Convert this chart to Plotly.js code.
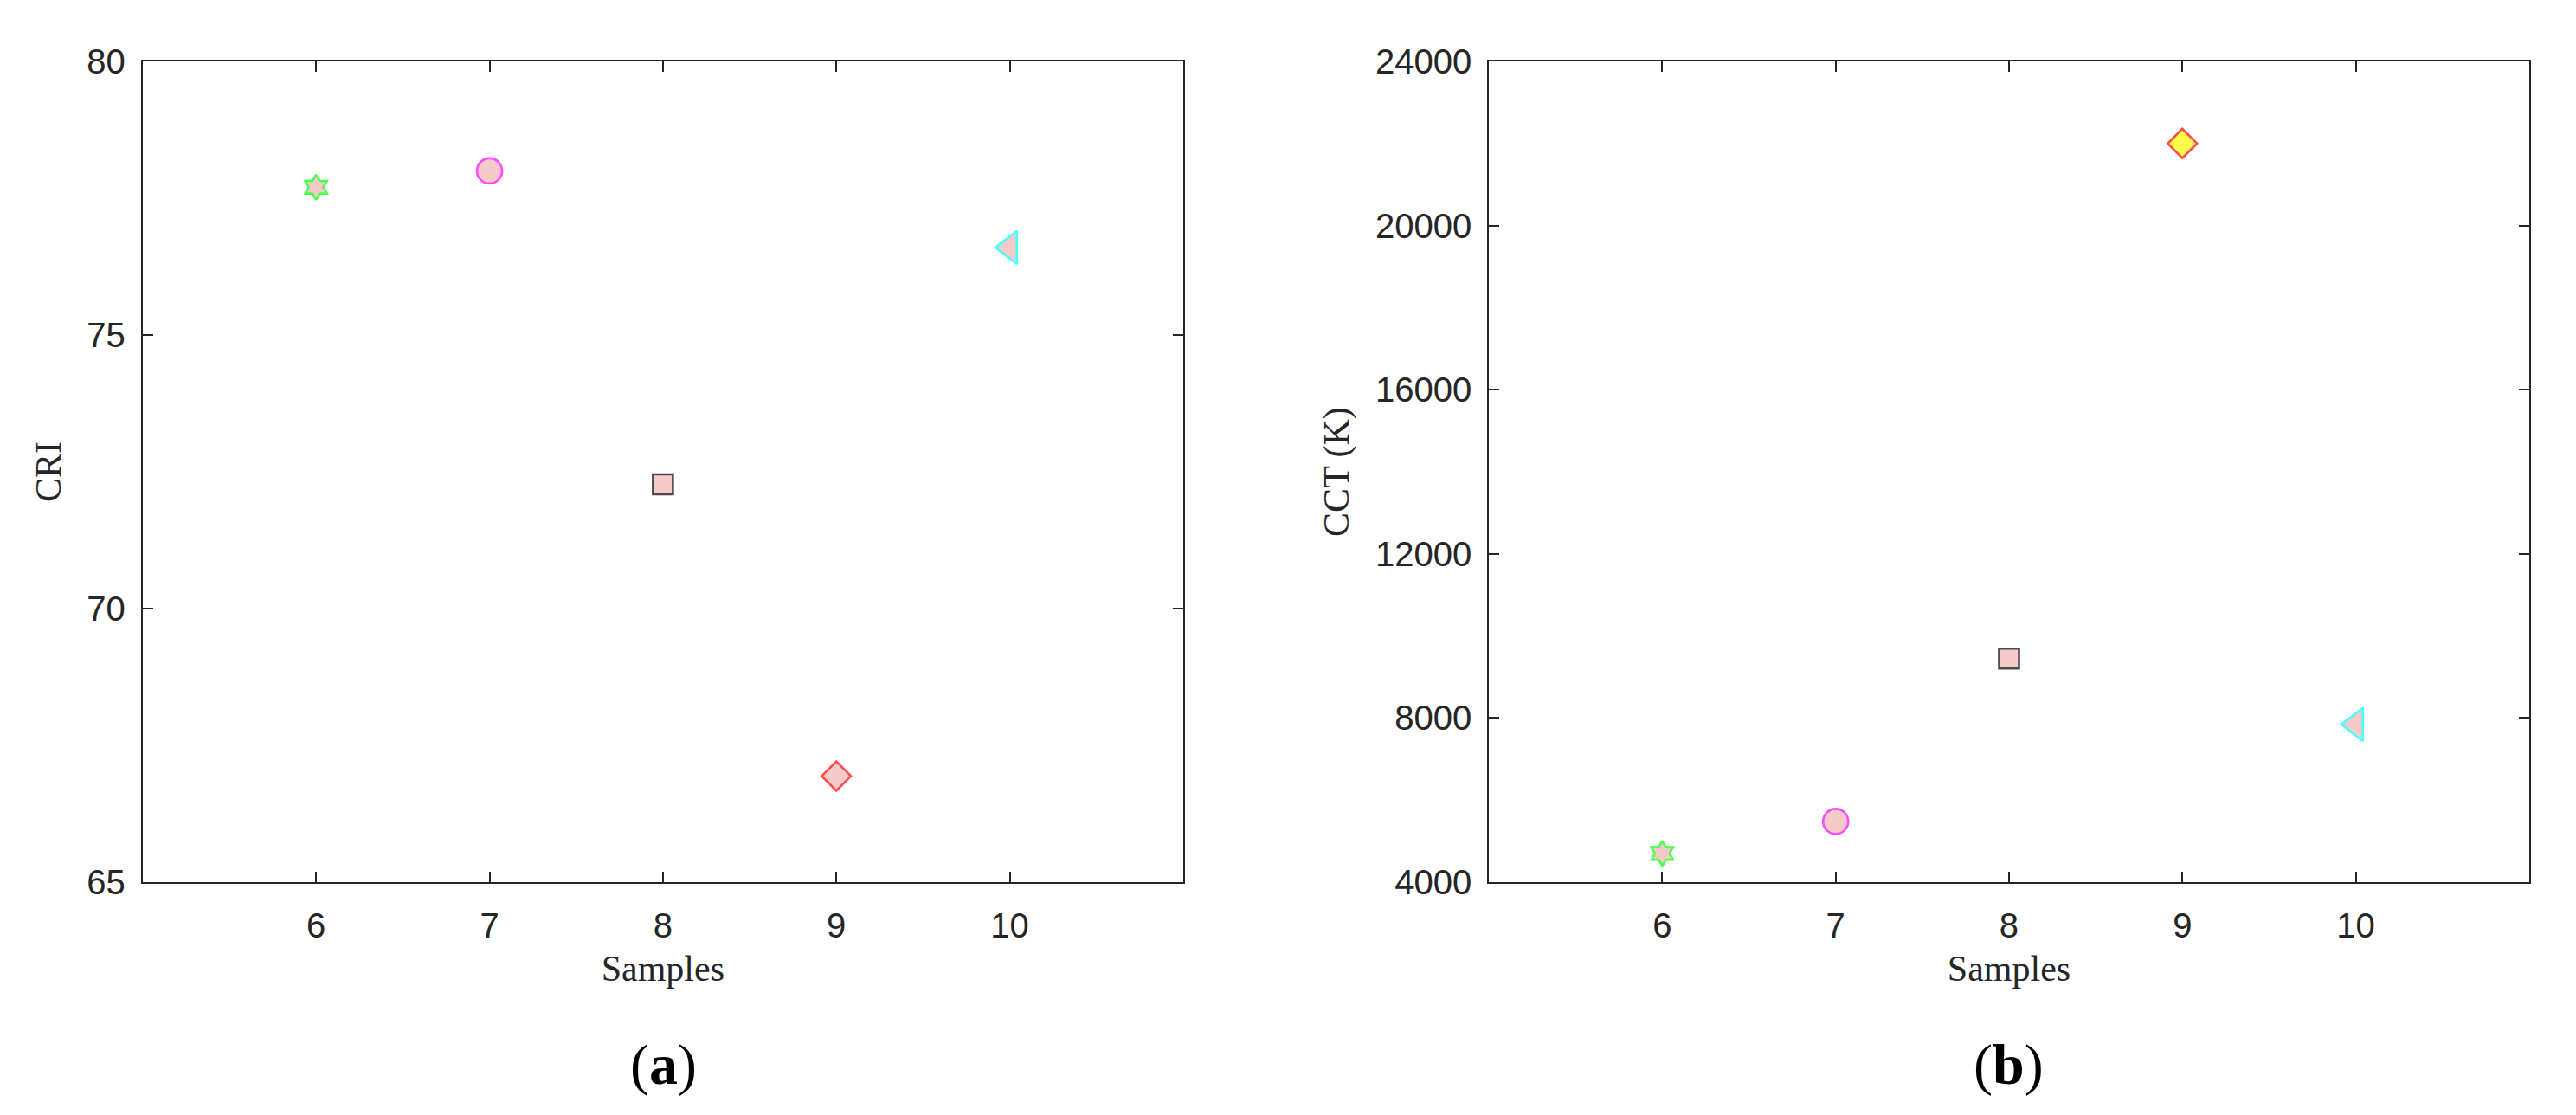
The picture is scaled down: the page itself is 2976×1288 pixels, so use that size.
<!DOCTYPE html>
<html>
<head>
<meta charset="utf-8">
<script src="https://cdn.plot.ly/plotly-3.0.1.min.js"></script>
<style>html,body{margin:0;padding:0;background:#fff;}#chart{width:2976px;height:1288px;}</style>
</head>
<body>
<div id="chart"></div>
<script>
// ---- data ----
const samples = [6, 7, 8, 9, 10];
const cri = [77.7, 78.0, 72.27, 66.94, 76.6];
const cct = [4700, 5480, 9450, 22000, 7845];
const criTicks = [65, 70, 75, 80];
const cctTicks = [4000, 8000, 12000, 16000, 20000, 24000];
const sampleTicks = [6, 7, 8, 9, 10];

// ---- styles ----
const symbols = ['hexagram', 'circle', 'square', 'diamond', 'triangle-left'];
const sizes = [22, 29, 23, 26, 33];
const edgeColors = ['#00ff00', '#ff00ff', '#000000', '#ff0000', '#00ffff'];
const pink = '#f5b4b4';
const fillA = [pink, pink, pink, pink, pink];
const fillB = [pink, pink, pink, '#ffff00', pink];

const traceA = {
  x: samples, y: cri, type: 'scatter', mode: 'markers', xaxis: 'x', yaxis: 'y',
  marker: {symbol: symbols, size: sizes, color: fillA, line: {color: edgeColors, width: 2.6}},
  hoverinfo: 'x+y'
};
const traceB = {
  x: samples, y: cct, type: 'scatter', mode: 'markers', xaxis: 'x2', yaxis: 'y2',
  marker: {symbol: symbols, size: sizes, color: fillB, line: {color: edgeColors, width: 2.6}},
  hoverinfo: 'x+y'
};

const tickFont = {family: 'Liberation Sans, Arial, sans-serif', size: 40, color: '#262626'};
const titleFont = {family: 'Liberation Serif, Times New Roman, serif', size: 42, color: '#262626'};

function axisBase() {
  return {
    showline: true, mirror: 'ticks', linecolor: '#262626', linewidth: 2,
    ticks: 'inside', ticklen: 12, tickwidth: 2, tickcolor: '#262626',
    showgrid: false, zeroline: false, tickfont: tickFont, automargin: false, fixedrange: true
  };
}

const yDomain = [0.2088, 0.9449];

const layout = {
  width: 2976, height: 1288,
  margin: {l: 0, r: 0, t: 0, b: 0},
  paper_bgcolor: '#ffffff', plot_bgcolor: '#ffffff',
  showlegend: false,
  xaxis: Object.assign(axisBase(), {
    domain: [0.0554, 0.4593], range: [5, 11], tickvals: sampleTicks, ticktext: sampleTicks.map(String),
    anchor: 'y', ticklabelstandoff: 14,
    title: {text: 'Samples', font: titleFont, standoff: 14}
  }),
  yaxis: Object.assign(axisBase(), {
    domain: yDomain, range: [65, 80], tickvals: criTicks, ticktext: criTicks.map(String),
    anchor: 'x', ticklabelstandoff: 10,
    title: {text: 'CRI', font: titleFont, standoff: 17}
  }),
  xaxis2: Object.assign(axisBase(), {
    domain: [0.5780, 0.9818], range: [5, 11], tickvals: sampleTicks, ticktext: sampleTicks.map(String),
    anchor: 'y2', ticklabelstandoff: 14,
    title: {text: 'Samples', font: titleFont, standoff: 14}
  }),
  yaxis2: Object.assign(axisBase(), {
    domain: yDomain, range: [4000, 24000], tickvals: cctTicks, ticktext: cctTicks.map(String),
    anchor: 'x2', ticklabelstandoff: 10,
    title: {text: 'CCT (K)', font: titleFont, standoff: 17}
  }),
  annotations: [
    {xref: 'paper', yref: 'paper', x: 0.2574, y: 0.045, xanchor: 'center', yanchor: 'middle',
     text: '(<b>a</b>)', showarrow: false,
     font: {family: 'Liberation Serif, Times New Roman, serif', size: 66, color: '#000000'}},
    {xref: 'paper', yref: 'paper', x: 0.7799, y: 0.045, xanchor: 'center', yanchor: 'middle',
     text: '(<b>b</b>)', showarrow: false,
     font: {family: 'Liberation Serif, Times New Roman, serif', size: 66, color: '#000000'}}
  ]
};

Plotly.newPlot('chart', [traceA, traceB], layout, {displayModeBar: false, responsive: false});
</script>
</body>
</html>
